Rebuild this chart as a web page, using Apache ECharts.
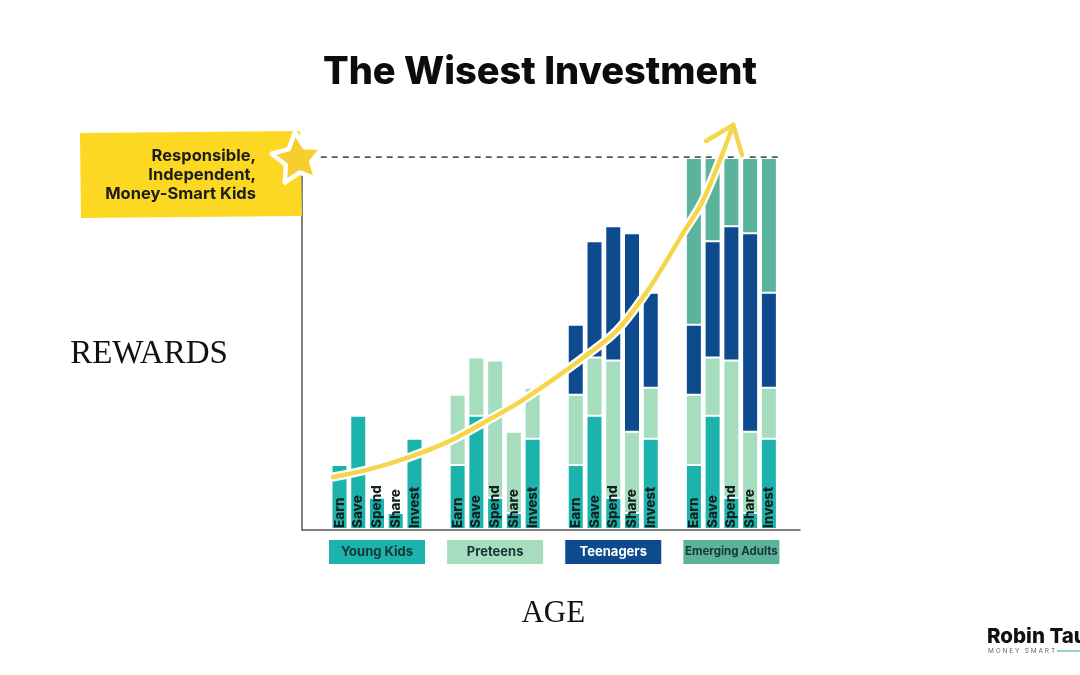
<!DOCTYPE html>
<html><head><meta charset="utf-8">
<script src="https://cdn.jsdelivr.net/npm/echarts@6/dist/echarts.min.js"></script>
<style>html,body{margin:0;padding:0;background:#fff}#c{width:1080px;height:675px}</style>
</head><body><div id="c"></div>
<script>
// ---- data ----
const activities = ['Earn', 'Save', 'Spend', 'Share', 'Invest'];
const stages = ['Young Kids', 'Preteens', 'Teenagers', 'Emerging Adults'];
// reward added at each life stage, per activity (goal = 100)
const youngKids      = [17.7, 30.9,  8.9,  4.8, 24.7];
const preteens       = [18.8, 15.6, 36.8, 21.8, 13.7];
const teenagers      = [18.8, 31.2, 36.0, 53.2, 25.5];
const emergingAdults = [44.7, 22.3, 18.3, 20.2, 36.1];
const goal = 100;
// the growth arrow, traced in chart coordinates
const arrowCurve = [[1.65,14.2],[3.47,16.1],[5.76,19.6],[7.89,23.9],[9.87,29.3],[11.47,33.9],
  [13.23,39.8],[14.99,46.2],[16.8,53.5],[18.56,65.1],[20.32,79.6],[21.39,88.4],[23.0,108.6]];
const arrowHead = [[21.55,104.3],[23.0,108.6],[23.47,100.5]];
const goalLine = [[1.0, goal], [25.4, goal]];

const stageValues = [youngKids, preteens, teenagers, emergingAdults];
const stageColors = ['#1BB3AC', '#A6DDBF', '#0E4B8E', '#5CB39B'];
const stageText = ['#173636', '#173636', '#ffffff', '#173636'];
const groupStep = 6.3, firstX = 2;
const xPos = (g, j) => firstX + g * groupStep + j;

const chart = echarts.init(document.getElementById('c'), null, {renderer: 'canvas'});
const font = 'Inter, "Open Sans", sans-serif';

const barSeries = [];
for (let k = 3; k >= 0; k--) {
  const data = [];
  for (let g = k; g < 4; g++) {
    for (let j = 0; j < 5; j++) {
      let cum = 0;
      for (let m = 0; m <= k; m++) cum += stageValues[m][j];
      data.push({value: [xPos(g, j), cum], act: j});
    }
  }
  barSeries.push({
    type: 'bar', name: stages[k], data,
    barWidth: 18, barGap: '-100%',
    itemStyle: {color: stageColors[k], borderColor: '#fff', borderWidth: 2},
    z: 2,
    label: k === 0 ? {
      show: true, position: 'insideBottom', distance: 2, rotate: 90,
      align: 'left', verticalAlign: 'middle',
      formatter: p => activities[p.data.act],
      fontFamily: font, fontWeight: 800, fontSize: 13.5, color: '#14201f'
    } : {show: false}
  });
}

const option = {
  animation: false,
  backgroundColor: '#fff',
  title: {
    text: 'The Wisest Investment', left: 'center', top: 49,
    textStyle: {fontFamily: font, fontWeight: 800, fontSize: 38, color: '#0c0c0c'}
  },
  grid: {left: 302, right: 280, top: 157, bottom: 145},
  xAxis: {
    type: 'value', min: 0, max: 26.56, z: 5,
    axisLine: {show: true, lineStyle: {color: '#5a5a5a', width: 1.5}},
    axisTick: {show: false}, axisLabel: {show: false}, splitLine: {show: false}
  },
  yAxis: {
    type: 'value', min: 0, max: goal, z: 5,
    axisLine: {show: true, lineStyle: {color: '#5a5a5a', width: 1.5}},
    axisTick: {show: false}, axisLabel: {show: false}, splitLine: {show: false}
  },
  series: [
    ...barSeries,
    {type: 'line', data: goalLine, symbol: 'none', z: 3, silent: true,
     lineStyle: {color: '#222', width: 1.3, type: [6, 5]}},
    {type: 'line', data: arrowCurve, smooth: 0.35, symbol: 'none', clip: false, z: 4,
     lineStyle: {color: '#ffffff', width: 9, cap: 'round'}},
    {type: 'line', data: arrowHead, symbol: 'none', clip: false, z: 4,
     lineStyle: {color: '#ffffff', width: 9, cap: 'round', join: 'round'}},
    {type: 'line', data: arrowCurve, smooth: 0.35, symbol: 'none', clip: false, z: 6,
     lineStyle: {color: '#F5D64A', width: 4.5, cap: 'round'}},
    {type: 'line', data: arrowHead, symbol: 'none', clip: false, z: 6,
     lineStyle: {color: '#F5D64A', width: 4.5, cap: 'round', join: 'round'}}
  ]
};
chart.setOption(option);

// ---- decorations positioned from the chart's own scales ----
const graphics = [];
// callout box
graphics.push({type: 'polygon', z: 10, shape: {points: [[80,133],[300,131],[302,216],[81,218]]},
  style: {fill: '#FCD823'}});
['Responsible,', 'Independent,', 'Money-Smart Kids'].forEach((t, i) => {
  graphics.push({type: 'text', z: 11, style: {text: t, x: 256, y: 156 + i * 19, textAlign: 'right',
    textVerticalAlign: 'middle', verticalAlign: 'middle', font: '700 16.5px ' + font, fill: '#1c1c1c'}});
});
// star at the top of the reward axis
const starC = chart.convertToPixel({gridIndex: 0}, [0, goal]);
const pts = [];
for (let i = 0; i < 10; i++) {
  const r = i % 2 === 0 ? 27 : 13.5;
  const a = -Math.PI / 2 - 0.12 + i * Math.PI / 5;
  pts.push([starC[0] - 4 + r * Math.cos(a), starC[1] + 2 + r * Math.sin(a)]);
}
graphics.push({type: 'polygon', z: 12, shape: {points: pts},
  style: {fill: '#F8CD30', stroke: '#ffffff', lineWidth: 4.5, lineJoin: 'round'}});
// stage boxes under the axis
stages.forEach((s, g) => {
  const cx = chart.convertToPixel({gridIndex: 0}, [xPos(g, 2), 0])[0];
  graphics.push({type: 'rect', z: 10, shape: {x: cx - 48, y: 540, width: 96, height: 24},
    style: {fill: stageColors[g]}});
  graphics.push({type: 'text', z: 11, style: {text: s, x: cx, y: 552, textAlign: 'center',
    textVerticalAlign: 'middle', verticalAlign: 'middle',
    font: '700 ' + (g === 3 ? '11.5px ' : '13px ') + font, fill: stageText[g]}});
});
// axis names
const yMid = chart.convertToPixel({gridIndex: 0}, [0, 47])[1];
graphics.push({type: 'text', z: 11, style: {text: 'REWARDS', x: 149, y: yMid, textAlign: 'center',
  textVerticalAlign: 'middle', verticalAlign: 'middle', font: '400 33px "Liberation Serif", serif', fill: '#111'}});
const xMid = chart.convertToPixel({gridIndex: 0}, [13.4, 0])[0];
graphics.push({type: 'text', z: 11, style: {text: 'AGE', x: xMid, y: 614, textAlign: 'center',
  textVerticalAlign: 'middle', verticalAlign: 'middle', font: '400 31px "Liberation Serif", serif', fill: '#111'}});
// logo
graphics.push({type: 'text', z: 11, style: {text: 'Robin Tau', x: 987, y: 637, textAlign: 'left',
  textVerticalAlign: 'middle', verticalAlign: 'middle', font: '800 20.5px ' + font, fill: '#111'}});
graphics.push({type: 'text', z: 11, style: {text: 'M O N E Y   S M A R T', x: 988, y: 651, textAlign: 'left',
  textVerticalAlign: 'middle', verticalAlign: 'middle', font: '400 6.5px ' + font, fill: '#666'}});
graphics.push({type: 'line', z: 11, shape: {x1: 1057, y1: 651, x2: 1080, y2: 651},
  style: {stroke: '#6CC4A8', lineWidth: 1.5}});

chart.setOption({graphic: graphics});
</script>
</body></html>
